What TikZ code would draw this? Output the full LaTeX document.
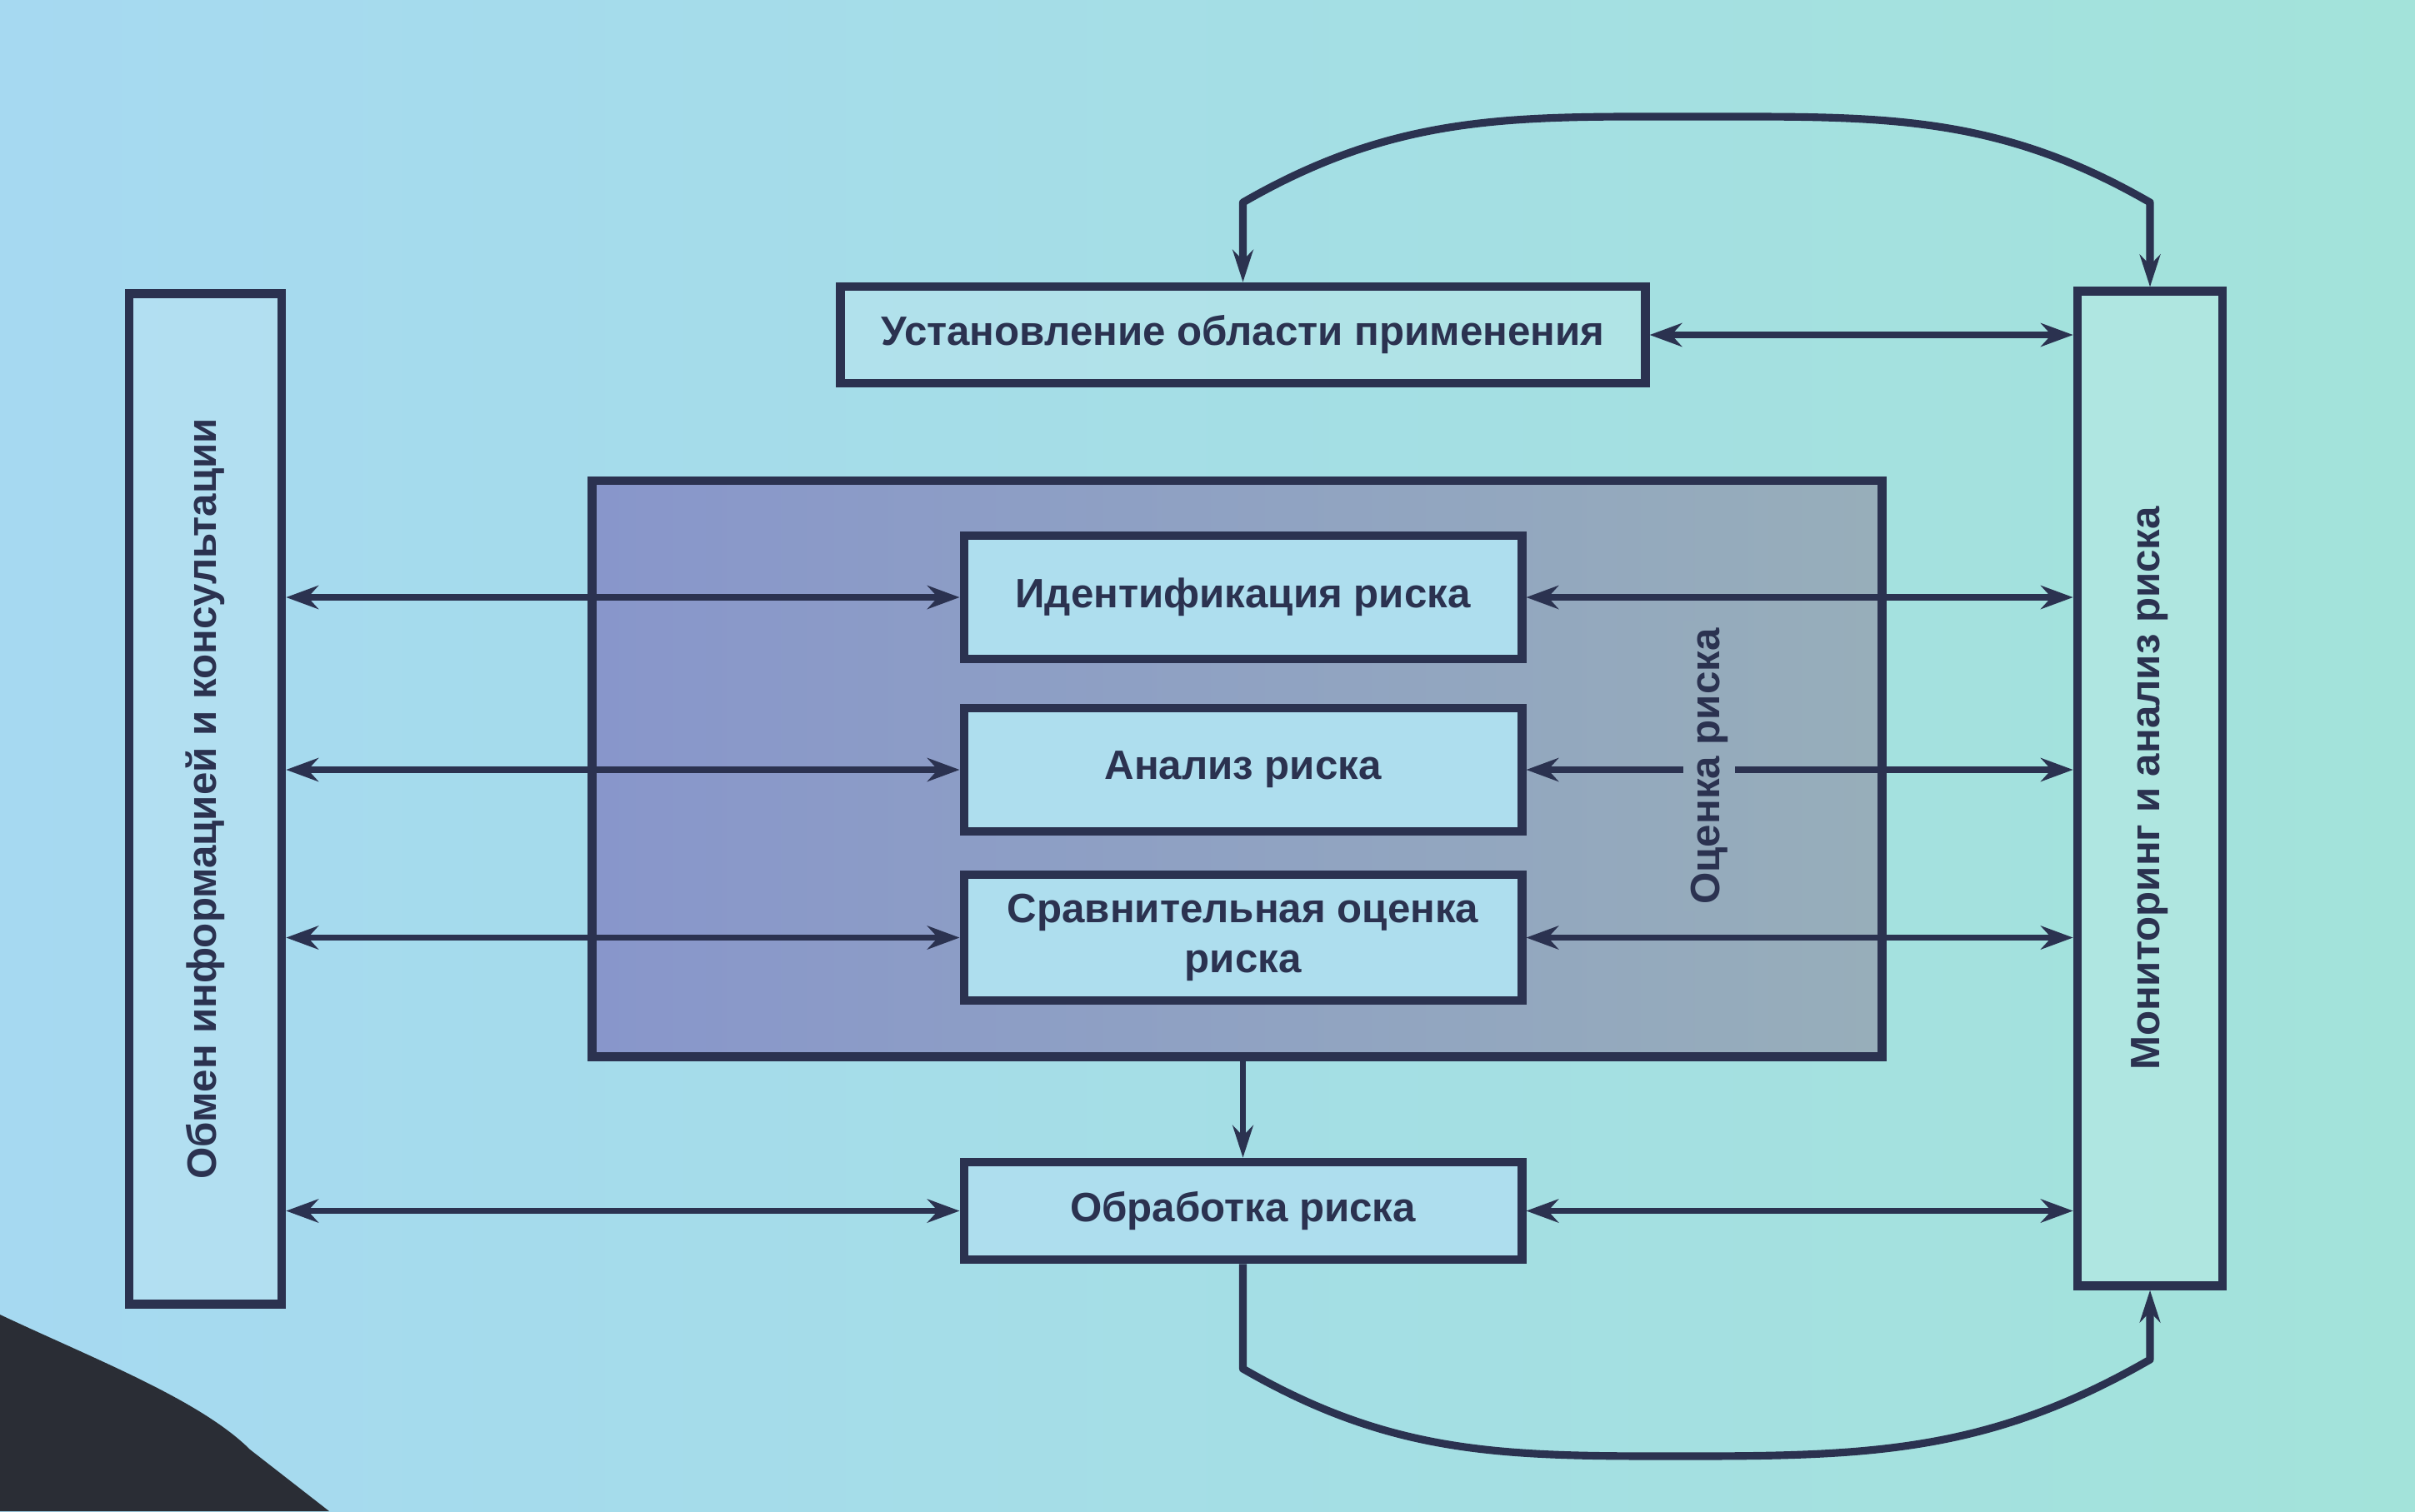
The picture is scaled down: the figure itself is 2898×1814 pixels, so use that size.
\documentclass[tikz,border=0pt]{standalone}
\usepackage{fontspec}
\setmainfont{Liberation Sans}
\usetikzlibrary{arrows.meta}
\definecolor{ink}{HTML}{2B3250}
\definecolor{bgL}{HTML}{A6D9F1}
\definecolor{bgR}{HTML}{A3E3DA}
\definecolor{asL}{HTML}{8896CB}
\definecolor{asR}{HTML}{97AEBA}
\definecolor{inner}{HTML}{AEDEEE}
\definecolor{shadow}{HTML}{2A2D35}
\begin{document}
\begin{tikzpicture}[x=0.01cm,y=-0.01cm,
  txt/.style={font=\bfseries\fontsize{14}{17}\selectfont, text=ink, align=center},
  sidebox/.style={txt, draw=ink, line width=3pt, fill=white, fill opacity=0.14, text opacity=1, inner sep=0pt},
  procbox/.style={txt, draw=ink, line width=3pt, fill=inner, inner sep=0pt},
  link/.style={draw=ink, line width=2.2pt, {Stealth[length=11pt,width=8pt]}-{Stealth[length=11pt,width=8pt]}},
  oneway/.style={draw=ink, line width=2.2pt, -{Stealth[length=11pt,width=7pt]}},
  loopline/.style={draw=ink, line width=2.6pt, line join=round}
]
\useasboundingbox (0,0) rectangle (2898,1814);
\shade[left color=bgL, right color=bgR] (0,0) rectangle (2898,1814);

% side boxes
\node[sidebox, minimum width=1.83cm, minimum height=12.12cm] (com) at (246.5,959)
  {\rotatebox{90}{Обмен информацией и консультации}};
\node[sidebox, minimum width=1.74cm, minimum height=11.93cm] (mon) at (2580,946.5)
  {\rotatebox{90}{Мониторинг и анализ риска}};
\node[sidebox, minimum width=9.65cm, minimum height=1.16cm] (scope) at (1491.5,402)
  {Установление области применения};

% risk assessment block
\node[draw=ink, line width=3pt, left color=asL, right color=asR, minimum width=15.47cm, minimum height=6.91cm, inner sep=0pt] (assess) at (1484.5,922.5) {};

\node[procbox, minimum width=6.69cm, minimum height=1.48cm] (ident) at (1491.5,717) {Идентификация риска};
\node[procbox, minimum width=6.69cm, minimum height=1.48cm] (anal) at (1491.5,924) {Анализ риска};
\node[procbox, minimum width=6.69cm, minimum height=1.51cm] (comp) at (1491.5,1125.5) {Сравнительная оценка\\риска};
\node[procbox, minimum width=6.69cm, minimum height=1.17cm] (treat) at (1491.5,1453.5) {Обработка риска};

% left links
\draw[link] (com.east |- ident.west) -- (ident.west);
\draw[link] (com.east |- anal.west) -- (anal.west);
\draw[link] (com.east |- comp.west) -- (comp.west);
\draw[link] (com.east |- treat.west) -- (treat.west);

% right links
\draw[link] (scope.east) -- (mon.west |- scope.east);
\draw[link] (ident.east) -- (mon.west |- ident.east);
\draw[link] (anal.east) -- (mon.west |- anal.east);
\draw[link] (comp.east) -- (mon.west |- comp.east);
\draw[link] (treat.east) -- (mon.west |- treat.east);

% vertical label inside assessment block
\node[txt, fill=asR!88!asL, inner sep=2.5pt] (assesslbl) at (2051,920) {\rotatebox{90}{Оценка риска}};

% assessment -> treatment
\draw[oneway] (treat.north |- assess.south) -- (treat.north);

% top loop
\coordinate (t1) at (1491.5,243);
\coordinate (tp) at (2040,140);
\coordinate (t2) at (2580,243);
\draw[loopline, {Stealth[length=11pt,width=7pt]}-{Stealth[length=11pt,width=7pt]}]
  (scope.north) -- (t1) to[out=30,in=180] (tp) to[out=0,in=150] (t2) -- (mon.north);

% bottom loop
\coordinate (b1) at (1491.5,1643);
\coordinate (bp) at (2010,1748);
\coordinate (b2) at (2580,1632);
\draw[loopline, -{Stealth[length=11pt,width=7pt]}]
  (treat.south) -- (b1) to[out=-30,in=180] (bp) to[out=0,in=-150] (b2) -- (mon.south);

% dark foreground shape (photo)
\fill[shadow] (0,1578) .. controls (110,1630) and (240,1680) .. (300,1740) -- (395,1814) -- (0,1814) -- cycle;
\end{tikzpicture}
\end{document}
